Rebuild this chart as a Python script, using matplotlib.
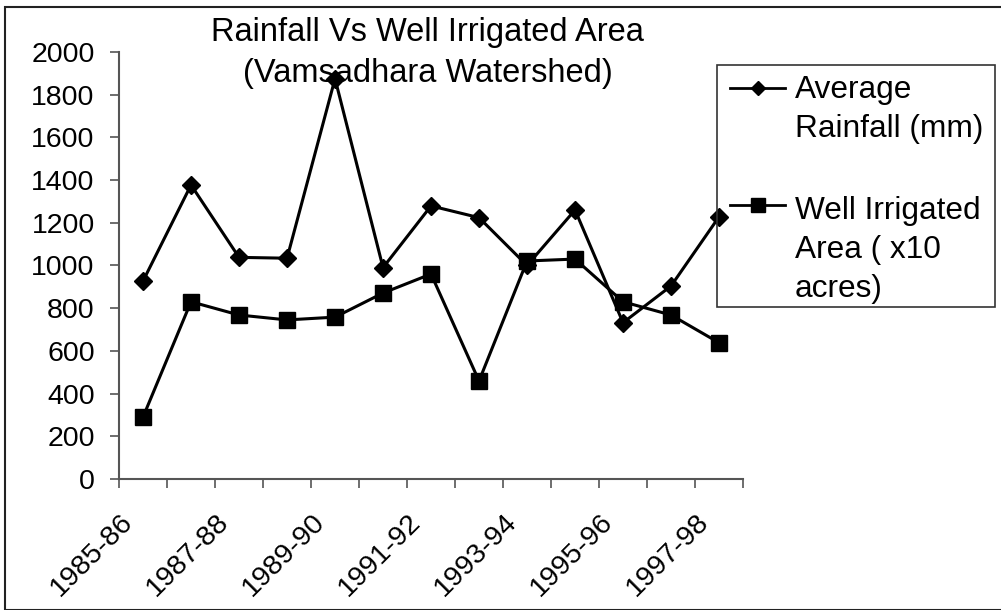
import matplotlib
matplotlib.use('Agg')
import matplotlib.pyplot as plt
from matplotlib.lines import Line2D
from matplotlib.patches import Rectangle

# yearly values
years = ['1985-86', '1986-87', '1987-88', '1988-89', '1989-90', '1990-91', '1991-92',
         '1992-93', '1993-94', '1994-95', '1995-96', '1996-97', '1997-98']
rainfall = [927, 1377, 1038, 1034, 1875, 990, 1279, 1224, 1000, 1260, 732, 904, 1228]
well_area = [290, 830, 768, 745, 758, 871, 960, 459, 1021, 1030, 830, 768, 638]
y_ticks = list(range(0, 2001, 200))

plt.rcParams['font.family'] = ['Liberation Sans', 'DejaVu Sans']

fig = plt.figure(figsize=(10.01, 6.1), dpi=100)
ax = fig.add_axes([0.1189, 0.2148, 0.6234, 0.7000])

x = list(range(len(years)))
ax.plot(x, rainfall, color='black', lw=2.2, marker='D', ms=9, zorder=3)
ax.plot(x, well_area, color='black', lw=2.2, marker='s', ms=11, zorder=3)

ax.set_xlim(-0.5, len(years) - 0.5)
ax.set_ylim(0, 2000)
ax.set_yticks(y_ticks)
ax.set_xticks([i - 0.5 for i in range(len(years) + 1)])
ax.set_xticklabels([])

for s in ['top', 'right']:
    ax.spines[s].set_visible(False)
for s in ['left', 'bottom']:
    ax.spines[s].set_color('#555555')
    ax.spines[s].set_linewidth(1.5)
ax.tick_params(axis='both', direction='out', length=6.5, width=1.2, color='#555555')
ax.tick_params(axis='y', labelsize=20.5, pad=11)

# every other year is labelled, sitting under its category
for i in range(0, len(years), 2):
    ax.annotate(years[i], xy=(i, 0), xycoords=('data', 'axes fraction'),
                xytext=(-10, -28), textcoords='offset points',
                rotation=45, rotation_mode='anchor', ha='right', va='center',
                fontsize=20.5)

fig.text(0.427, 1 - 82 / 610, 'Rainfall Vs Well Irrigated Area\n(Vamsadhara Watershed)',
         ha='center', va='baseline', fontsize=23.5, linespacing=1.4, multialignment='center')

# legend box
fig.patches.append(Rectangle((717 / 1001, 1 - 307 / 610), 278 / 1001, 242 / 610,
                             transform=fig.transFigure, fill=False,
                             edgecolor='#333333', lw=1.2))
for yy, last, mk, ms, label in [(88, 137, 'D', 7.5, 'Average\nRainfall (mm)'),
                                (205, 297, 's', 10, 'Well Irrigated\nArea ( x10\nacres)')]:
    fig.lines.append(Line2D([730 / 1001, 785 / 1001], [1 - yy / 610] * 2,
                            transform=fig.transFigure, color='black', lw=2))
    fig.lines.append(Line2D([758 / 1001], [1 - yy / 610], transform=fig.transFigure,
                            color='black', marker=mk, ms=ms))
    fig.text(795 / 1001, 1 - last / 610, label, ha='left', va='baseline',
             fontsize=22.8, linespacing=1.4)

# outer frame
fig.patches.append(Rectangle((5 / 1001, 0), 1.0, 1 - 7 / 610,
                             transform=fig.transFigure, fill=False,
                             edgecolor='#222222', lw=1.5))

fig.savefig('out.png', dpi=100)
